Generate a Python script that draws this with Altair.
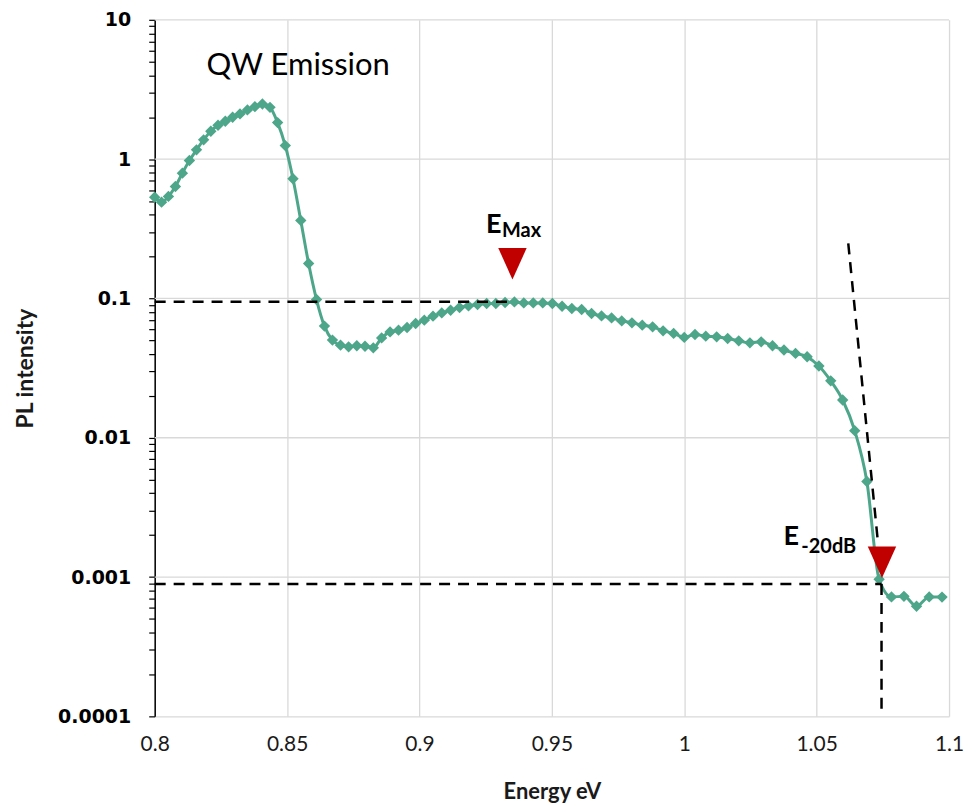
import altair as alt
import pandas as pd

# ---- data (photon energy in eV, PL intensity) ----
energy = [
    0.8000, 0.80259, 0.80519, 0.80782, 0.81046, 0.81311, 0.81579, 0.81848, 0.82119, 0.82392,
    0.82667, 0.82943, 0.83221, 0.83502, 0.83784, 0.84068, 0.84354, 0.84642, 0.84932, 0.85223,
    0.85517, 0.85813, 0.86111, 0.86411, 0.86713, 0.87018, 0.87324, 0.87633, 0.87943, 0.88256,
    0.88571, 0.88889, 0.89209, 0.89531, 0.89855, 0.90182, 0.90511, 0.90842, 0.91176, 0.91513,
    0.91852, 0.92193, 0.92537, 0.92884, 0.93233, 0.93585, 0.93939, 0.94297, 0.94656, 0.95019,
    0.95385, 0.95753, 0.96124, 0.96498, 0.96875, 0.97255, 0.97638, 0.98024, 0.98413, 0.98805,
    0.99200, 0.99598, 1.00000, 1.00405, 1.00813, 1.01224, 1.01639, 1.02058, 1.02479, 1.02905,
    1.03333, 1.03766, 1.04202, 1.04641, 1.05085, 1.05532, 1.05983, 1.06438, 1.06897, 1.07359,
    1.07826, 1.08297, 1.08772, 1.09251, 1.09735,
]
intensity = [
    0.533, 0.491, 0.540, 0.636, 0.793, 0.977, 1.166, 1.375, 1.585, 1.749,
    1.868, 1.996, 2.111, 2.255, 2.381, 2.489, 2.354, 1.829, 1.251, 0.723,
    0.363, 0.178, 0.0982, 0.0633, 0.0502, 0.0462, 0.0449, 0.0457, 0.0454, 0.0442,
    0.0521, 0.0575, 0.0592, 0.0619, 0.0661, 0.0698, 0.0746, 0.0787, 0.0823, 0.0861,
    0.0884, 0.0904, 0.0920, 0.0920, 0.0935, 0.0944, 0.0929, 0.0929, 0.0929, 0.0920,
    0.0879, 0.0846, 0.0833, 0.0780, 0.0749, 0.0725, 0.0690, 0.0668, 0.0643, 0.0625,
    0.0585, 0.0561, 0.0525, 0.0551, 0.0536, 0.0530, 0.0516, 0.0496, 0.0480, 0.0488,
    0.0457, 0.0426, 0.0403, 0.0381, 0.0327, 0.0256, 0.01866, 0.01124, 0.00485, 0.000963,
    0.000720, 0.000727, 0.000617, 0.000720, 0.000718,
]

x_ticks = [0.8, 0.85, 0.9, 0.95, 1.0, 1.05, 1.1]
y_decades = [0.0001, 0.001, 0.01, 0.1, 1, 10]
y_ticks = [
    0.0001, 0.0002, 0.0003, 0.0004, 0.0005, 0.0006, 0.0007, 0.0008, 0.0009,
    0.001, 0.002, 0.003, 0.004, 0.005, 0.006, 0.007, 0.008, 0.009,
    0.01, 0.02, 0.03, 0.04, 0.05, 0.06, 0.07, 0.08, 0.09,
    0.1, 0.2, 0.3, 0.4, 0.5, 0.6, 0.7, 0.8, 0.9,
    1, 2, 3, 4, 5, 6, 7, 8, 9, 10,
]
grid_rows = [0.001, 0.01, 0.1, 1, 10]

# dashed guide lines (E_max level, -20 dB level, -20 dB energy, tangent)
guide_x = [0.8, 0.8, 1.0745, 1.06194]
guide_x2 = [0.9331, 1.0745, 1.0745, 1.07324]
guide_y = [0.0945, 0.000892, 0.000892, 0.2485]
guide_y2 = [0.0945, 0.000892, 0.0001, 0.001706]

# red markers
marker_x = [0.93512, 1.07467]
marker_y = [0.1773, 0.001279]

# labels
big_text = ["E", "E"]
big_x = [0.92513, 1.03744]
big_y = [0.293, 0.0017]
sub_text = ["Max", "-20dB"]
sub_x = [0.93116, 1.04422]
sub_y = [0.2745, 0.0015]

df = pd.DataFrame({"E": energy, "PL": intensity})
guides = pd.DataFrame({"x": guide_x, "x2": guide_x2, "y": guide_y, "y2": guide_y2})
markers = pd.DataFrame({"x": marker_x, "y": marker_y})
big = pd.DataFrame({"x": big_x, "y": big_y, "t": big_text})
sub = pd.DataFrame({"x": sub_x, "y": sub_y, "t": sub_text})
title_df = pd.DataFrame({"x": [0.8196], "y": [4.04], "t": ["QW Emission"]})
grid_df = pd.DataFrame({"g": grid_rows})

xs = alt.Scale(domain=[0.8, 1.1], nice=False, zero=False)
ys = alt.Scale(type="log", domain=[0.0001, 10], nice=False)

decade_list = ",".join(str(v) for v in y_decades)

x_axis = alt.Axis(
    values=x_ticks, format="~g", grid=True, gridColor="#d9d9d9", gridWidth=1.3,
    ticks=False, tickSize=0, domainColor="#d9d9d9", domainWidth=1.3,
    labelFont="Lato", labelFontSize=21, labelColor="#1a1a1a", labelPadding=17,
    title="Energy eV", titleFont="Lato", titleFontSize=22, titleFontWeight="bold",
    titleColor="#1a1a1a", titlePadding=27, labelFlush=False,
)
y_axis = alt.Axis(
    values=y_ticks, format="~g", grid=False,
    labelExpr=f"indexof([{decade_list}], datum.value) >= 0 ? datum.label : ''",
    ticks=True, tickSize=6, tickColor="#000", tickWidth=1.2,
    domainColor="#000", domainWidth=1.5,
    labelFont="DejaVu Sans", labelFontWeight="bold", labelFontSize=19,
    labelColor="#000", labelPadding=18, labelFlush=False, labelOverlap=False,
    title="PL intensity", titleFont="Lato", titleFontSize=23, titleFontWeight="bold",
    titleColor="#1a1a1a", titlePadding=20,
)


def X(field):
    return alt.X(field, scale=xs, axis=x_axis)


def Y(field):
    return alt.Y(field, scale=ys, axis=y_axis)


grid = alt.Chart(grid_df).mark_rule(color="#d9d9d9", strokeWidth=1.3).encode(
    y=Y("g:Q")
)

line_color = "#4DA68A"

curve = alt.Chart(df).mark_line(
    interpolate="monotone", color=line_color, strokeWidth=3
).encode(x=X("E:Q"), y=Y("PL:Q"))

points = alt.Chart(df).mark_point(
    shape="diamond", filled=True, size=130, color=line_color, opacity=1
).encode(x=X("E:Q"), y=Y("PL:Q"))

dashes = alt.Chart(guides).mark_rule(
    color="#000", strokeWidth=2.5, strokeDash=[11, 8]
).encode(x=X("x:Q"), x2="x2:Q", y=Y("y:Q"), y2="y2:Q")

tri = alt.Chart(markers).mark_point(
    shape="M-0.9,-1L0.9,-1L0,1Z", size=1000, filled=True, color="#C00000", opacity=1
).encode(x=X("x:Q"), y=Y("y:Q"))

big_lbl = alt.Chart(big).mark_text(
    font="Lato", fontWeight="bold", fontSize=27, align="left", baseline="alphabetic", color="#000"
).encode(x=X("x:Q"), y=Y("y:Q"), text="t:N")

sub_lbl = alt.Chart(sub).mark_text(
    font="Lato", fontWeight="bold", fontSize=20, align="left", baseline="alphabetic", color="#000"
).encode(x=X("x:Q"), y=Y("y:Q"), text="t:N")

qw = alt.Chart(title_df).mark_text(
    font="Lato", fontSize=31, align="left", baseline="alphabetic", color="#000"
).encode(x=X("x:Q"), y=Y("y:Q"), text="t:N")

chart = alt.layer(grid, curve, points, dashes, tri, big_lbl, sub_lbl, qw).properties(
    width=796,
    height=698,
    autosize=alt.AutoSizeParams(type="none"),
    padding={"left": 147, "top": 11, "right": 20, "bottom": 92},
).configure_view(stroke=None)

chart.save("out.html", embed_options={"renderer": "svg", "actions": False})
